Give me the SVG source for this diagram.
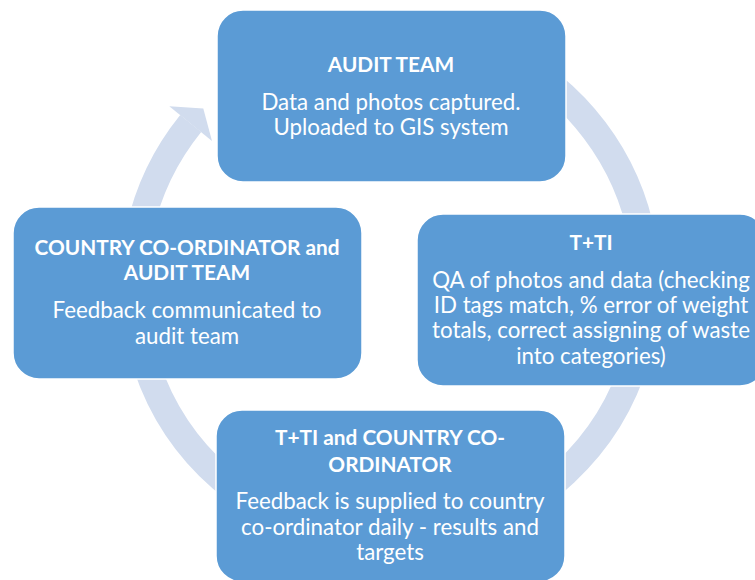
<svg xmlns="http://www.w3.org/2000/svg" width="755" height="580" viewBox="0 0 755 580">
<style>
.box{fill:#5B9BD5;stroke:#FFFFFF;stroke-width:1.5}
.t{font-family:Lato,"Open Sans","Liberation Sans",sans-serif;font-size:22.3px;fill:#FFFFFF;text-anchor:middle}
.b{font-weight:bold;font-size:20.8px}
.ring{fill:none;stroke:#D1DCEE;stroke-width:27}
</style>
<rect width="755" height="580" fill="#FFFFFF"/>
<g id="connectors">
<path class="ring" d="M242.9,74.9 A256.5,256.5 0 1 1 190.7,123.6"/>
<polygon points="169.3,106.3 203.3,108.4 212.0,140.9" fill="#D1DCEE"/>
</g>
<g id="audit-team">
<rect class="box" x="217" y="10" width="349" height="172" rx="26"/>
<text class="t b" x="391" y="72">AUDIT TEAM</text>
<text class="t" x="391" y="110">Data and photos captured.</text>
<text class="t" x="391" y="135">Uploaded to GIS system</text>
</g>
<g id="tti">
<rect class="box" x="417" y="214" width="349" height="172" rx="26"/>
<text class="t b" x="591" y="250">T+TI</text>
<text class="t" x="591" y="288">QA of photos and data (checking</text>
<text class="t" x="591" y="313">ID tags match, % error of weight</text>
<text class="t" x="591" y="338">totals, correct assigning of waste</text>
<text class="t" x="591" y="364">into categories)</text>
</g>
<g id="tti-country">
<rect class="box" x="216" y="410" width="349" height="172" rx="26"/>
<text class="t b" x="390" y="445">T+TI and COUNTRY CO-</text>
<text class="t b" x="390" y="472">ORDINATOR</text>
<text class="t" x="390" y="509">Feedback is supplied to country</text>
<text class="t" x="390" y="535">co-ordinator daily - results and</text>
<text class="t" x="390" y="560">targets</text>
</g>
<g id="country-audit">
<rect class="box" x="13" y="207" width="349" height="172" rx="26"/>
<text class="t b" x="187" y="255">COUNTRY CO-ORDINATOR and</text>
<text class="t b" x="187" y="280">AUDIT TEAM</text>
<text class="t" x="187" y="318">Feedback communicated to</text>
<text class="t" x="187" y="344">audit team</text>
</g>
</svg>
